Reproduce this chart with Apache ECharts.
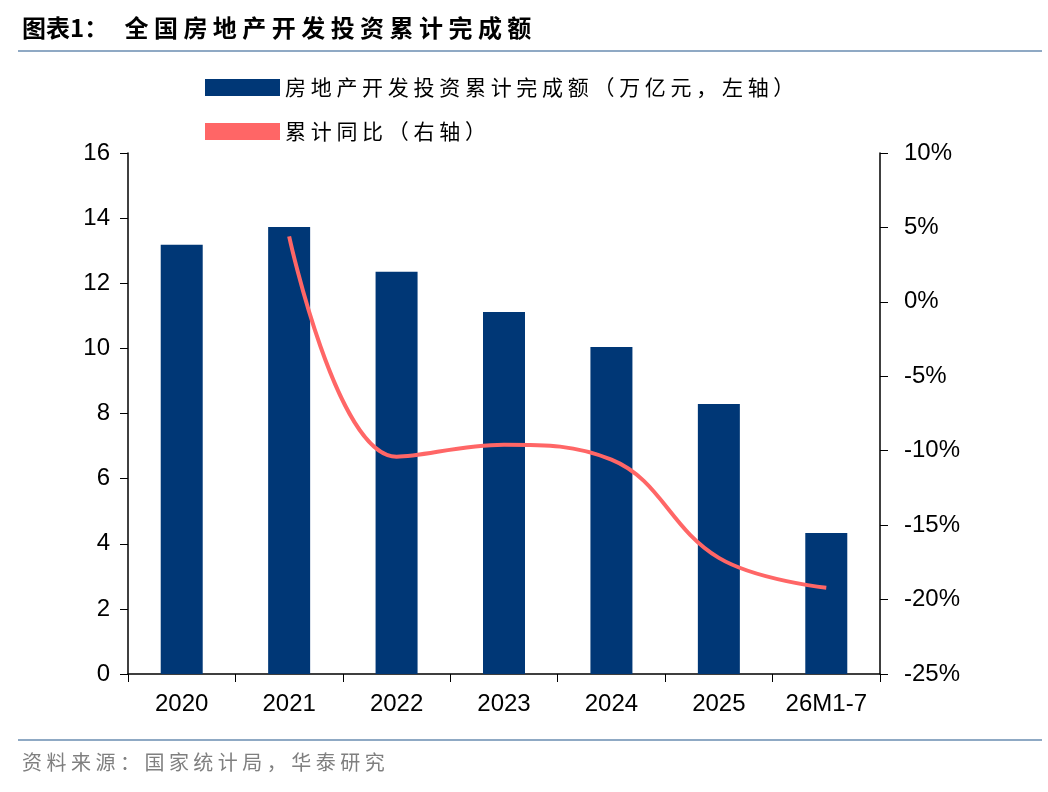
<!DOCTYPE html>
<html>
<head>
<meta charset="utf-8">
<script src="https://cdn.jsdelivr.net/npm/echarts@6/dist/echarts.min.js"></script>
<style>html,body{margin:0;padding:0;background:#fff}#c{width:1048px;height:792px}</style>
</head>
<body>
<div id="c"></div>
<script>
let categories = ['2020', '2021', '2022', '2023', '2024', '2025', '26M1-7'];
let invest = [13.18, 13.73, 12.35, 11.12, 10.04, 8.29, 4.33];   // 万亿元
let yoy = [null, 4.4, -10.4, -9.6, -10.6, -17.2, -19.2];        // %
let leftTicks = [0, 16, 2];
let rightTicks = [-25, 10, 5];

let cn = '"Noto Sans CJK SC", sans-serif';
let num = '"Liberation Sans", Arial, sans-serif';
// 参考图中文字间距较宽，用空格撑开
let spaced = (s) => s.split('').join(' ');
let barName = spaced('房地产开发投资累计完成额（万亿元，左轴）');
let lineName = spaced('累计同比（右轴）');

let chart = echarts.init(document.getElementById('c'));
chart.setOption({
    animation: false,
    graphic: [
        {type: 'text', left: 22, top: 16, style: {text: '图表1：   ' + spaced('全国房地产开发投资累计完成额'), font: 'bold 24px ' + cn, fill: '#000'}},
        {type: 'rect', shape: {x: 18, y: 50, width: 1024, height: 2}, style: {fill: '#8fa9c4'}},
        {type: 'rect', shape: {x: 18, y: 739, width: 1024, height: 2}, style: {fill: '#8fa9c4'}},
        {type: 'text', left: 22, top: 752, style: {text: spaced('资料来源：国家统计局，华泰研究'), font: '20px ' + cn, fill: '#7f7f7f'}}
    ],
    legend: [
        {
            left: 200, top: 72, itemWidth: 75, itemHeight: 17, itemGap: 20,
            textStyle: {fontFamily: cn, fontSize: 21, color: '#000'},
            data: [{name: barName, icon: 'rect'}]
        },
        {
            left: 200, top: 116, itemWidth: 75, itemHeight: 17,
            textStyle: {fontFamily: cn, fontSize: 21, color: '#000'},
            data: [{name: lineName, icon: 'rect', itemStyle: {color: '#ff6666'}}]
        }
    ],
    grid: {left: 128, right: 168, top: 153, bottom: 118},
    xAxis: {
        type: 'category',
        data: categories,
        axisLine: {lineStyle: {color: '#000', width: 1.5}},
        axisTick: {show: true, length: 8, lineStyle: {color: '#000'}},
        axisLabel: {fontFamily: num, fontSize: 24, color: '#000', margin: 18}
    },
    yAxis: [
        {
            type: 'value', min: leftTicks[0], max: leftTicks[1], interval: leftTicks[2],
            axisLine: {show: true, lineStyle: {color: '#000', width: 1.5}},
            axisTick: {show: true, length: 8, lineStyle: {color: '#000'}},
            axisLabel: {fontFamily: num, fontSize: 24, color: '#000', margin: 18},
            splitLine: {show: false}
        },
        {
            type: 'value', min: rightTicks[0], max: rightTicks[1], interval: rightTicks[2],
            position: 'right',
            axisLine: {show: true, lineStyle: {color: '#000', width: 1.5}},
            axisTick: {show: true, length: 8, lineStyle: {color: '#000'}},
            axisLabel: {fontFamily: num, fontSize: 24, color: '#000', margin: 24, formatter: '{value}%'},
            splitLine: {show: false}
        }
    ],
    series: [
        {
            name: barName,
            type: 'bar', barWidth: 42,
            itemStyle: {color: '#003776'},
            data: invest
        },
        {
            name: lineName,
            type: 'line', yAxisIndex: 1, smooth: 0.4,
            symbol: 'none',
            lineStyle: {color: '#ff6666', width: 4},
            itemStyle: {color: '#ff6666'},
            data: yoy
        }
    ]
});
</script>
</body>
</html>
